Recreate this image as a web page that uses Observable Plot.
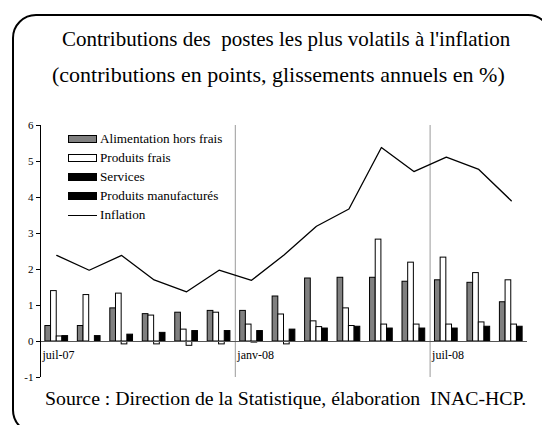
<!DOCTYPE html>
<html>
<head>
<meta charset="utf-8">
<script src="https://cdn.jsdelivr.net/npm/d3@7"></script>
<script src="https://cdn.jsdelivr.net/npm/@observablehq/plot@0.6"></script>
<style>
  html, body { margin: 0; padding: 0; background: #fff; }
  #wrap { position: relative; width: 542px; height: 425px; overflow: hidden; font-family: "Liberation Serif", serif; }
  #box { position: absolute; left: 12px; top: 14px; width: 540px; height: 420px; border: 2px solid #000; border-radius: 24px; box-sizing: border-box; }
  .t { position: absolute; white-space: pre; color: #000; line-height: 1; font-family: "Liberation Serif", serif; }
  #chart { position: absolute; left: 0; top: 110px; }
  #legend { position: absolute; left: 68px; top: 129px; font-size: 13.2px; font-family: "Liberation Serif", serif; }
  .row { height: 19.2px; display: flex; align-items: center; white-space: pre; }
  .sw { width: 29px; height: 8px; box-sizing: border-box; border: 1px solid #000; margin-right: 3px; }
  .ln { width: 29px; height: 0; border-top: 1.2px solid #000; margin-right: 3px; }
</style>
</head>
<body>
<div id="wrap">
  <div id="box"></div>
  <div class="t" id="t1" style="left:62px; top:29px; font-size:21px;">Contributions des  postes les plus volatils à l'inflation</div>
  <div class="t" id="t2" style="left:52px; top:64px; font-size:22px;">(contributions en points, glissements annuels en %)</div>
  <div id="chart"></div>
  <div id="legend"></div>
  <div class="t" id="src" style="left:45px; top:389px; font-size:19.8px;">Source : Direction de la Statistique, élaboration  INAC-HCP.</div>
</div>
<script>
const months = ["juil-07","août-07","sept-07","oct-07","nov-07","déc-07","janv-08","févr-08","mars-08","avr-08","mai-08","juin-08","juil-08","août-08","sept-08"];
const tickMonths = ["juil-07","janv-08","juil-08"];
const seriesNames = ["Alimentation hors frais","Produits frais","Services","Produits manufacturés"];
const alimentation = [0.43,0.43,0.92,0.76,0.80,0.85,0.85,1.25,1.75,1.77,1.77,1.66,1.70,1.63,1.09];
const frais        = [1.40,1.29,1.33,0.72,0.33,0.80,0.47,0.75,0.56,0.92,2.83,2.19,2.33,1.90,1.70];
const services     = [0.14,0.00,-0.08,-0.08,-0.12,-0.08,-0.03,-0.08,0.40,0.43,0.47,0.47,0.47,0.53,0.47];
const manuf        = [0.15,0.15,0.19,0.24,0.29,0.29,0.29,0.33,0.36,0.41,0.36,0.36,0.36,0.41,0.41];
const inflation    = [2.39,1.98,2.39,1.71,1.38,1.98,1.70,2.40,3.20,3.68,5.39,4.72,5.12,4.78,3.91];
const yTicks = [-1,0,1,2,3,4,5,6];

const seriesValues = [alimentation, frais, services, manuf];
const fills = ["#808080", "#ffffff", "#ffffff", "#000000"];
const legendFills = ["#808080", "#ffffff", "#000000", "#000000"];

const barW = 0.175;
const pad = (1 - 4 * barW) / 2;
const bars = [];
seriesValues.forEach((vals, k) => vals.forEach((v, i) => bars.push({month: months[i], i, k, v, s: seriesNames[k]})));
const line = inflation.map((v, i) => ({i, v}));
const ticks = tickMonths.map(m => ({m, i: months.indexOf(m)}));

const chart = Plot.plot({
  width: 542,
  height: 290,
  marginLeft: 40,
  marginRight: 15,
  marginTop: 15,
  marginBottom: 23,
  style: {fontFamily: "'Liberation Serif', serif", background: "transparent", color: "#000"},
  x: {domain: [0, months.length], axis: null},
  y: {domain: [-1, 6], axis: null},
  marks: [
    Plot.ruleX(ticks.filter(d => d.i > 0), {x: "i", stroke: "#9a9a9a", strokeWidth: 1}),
    Plot.rectY(bars, {
      x1: d => d.i + pad + d.k * barW,
      x2: d => d.i + pad + (d.k + 1) * barW,
      y1: 0, y2: "v",
      fill: d => fills[d.k],
      stroke: "#000", strokeWidth: 1
    }),
    Plot.ruleY([0], {stroke: "#555", strokeWidth: 1}),
    Plot.ruleX([0], {stroke: "#000", strokeWidth: 1}),
    Plot.axisY({ticks: yTicks, label: null, tickSize: 4, tickPadding: 3, fontSize: 11, stroke: "#000", tickFormat: d => d}),
    Plot.lineY(line, {x: d => d.i + 0.5, y: "v", stroke: "#000", strokeWidth: 1.3}),
    Plot.text(ticks, {x: "i", y: 0, text: "m", textAnchor: "start", dx: 2, dy: 14, fontSize: 12, fill: "#000"})
  ]
});
document.getElementById("chart").appendChild(chart);

const legend = document.getElementById("legend");
seriesNames.forEach((name, k) => {
  const r = document.createElement("div"); r.className = "row";
  const s = document.createElement("div"); s.className = "sw"; s.style.background = legendFills[k];
  const t = document.createElement("span"); t.textContent = name;
  r.appendChild(s); r.appendChild(t); legend.appendChild(r);
});
{
  const r = document.createElement("div"); r.className = "row";
  const s = document.createElement("div"); s.className = "ln";
  const t = document.createElement("span"); t.textContent = "Inflation";
  r.appendChild(s); r.appendChild(t); legend.appendChild(r);
}
</script>
</body>
</html>
